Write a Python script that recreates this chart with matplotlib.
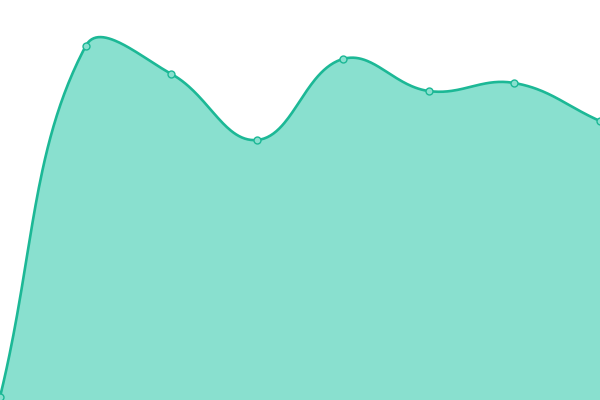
import numpy as np
import matplotlib
matplotlib.use('Agg')
import matplotlib.pyplot as plt

# data
labels = ['A', 'B', 'C', 'D', 'E', 'F', 'G', 'H']
values = [3, 354, 326, 260, 341, 309, 317, 279]

line_color = '#1cb896'
fill_color = '#89e0cf'

fig = plt.figure(figsize=(6, 4), dpi=100)
ax = fig.add_axes([0, 0, 1, 1])
ax.set_xlim(0, len(labels) - 1)
ax.set_ylim(0, 400)
ax.axis('off')

# chart.js style spline (tension 0.4) computed in display space
x = np.arange(len(labels))
pts = ax.transData.transform(np.column_stack([x, values]))
t = 0.4
n = len(pts)
cp_prev = np.zeros_like(pts)
cp_next = np.zeros_like(pts)
for i in range(n):
    cur = pts[i]
    prev = pts[i - 1] if i > 0 else cur
    nxt = pts[i + 1] if i < n - 1 else cur
    d01 = np.hypot(*(cur - prev))
    d12 = np.hypot(*(nxt - cur))
    tot = d01 + d12
    s01 = d01 / tot if tot else 0
    s12 = d12 / tot if tot else 0
    cp_prev[i] = cur - t * s01 * (nxt - prev)
    cp_next[i] = cur + t * s12 * (nxt - prev)

# cap control points to chart area
y0, y1 = ax.transData.transform([(0, 0), (0, 400)])[:, 1]
cp_prev[:, 1] = np.clip(cp_prev[:, 1], y0, y1)
cp_next[:, 1] = np.clip(cp_next[:, 1], y0, y1)

curve = []
s = np.linspace(0, 1, 60)[:, None]
for i in range(n - 1):
    p0, p1, p2, p3 = pts[i], cp_next[i], cp_prev[i + 1], pts[i + 1]
    seg = (1 - s) ** 3 * p0 + 3 * (1 - s) ** 2 * s * p1 + 3 * (1 - s) * s ** 2 * p2 + s ** 3 * p3
    curve.append(seg)
curve = np.vstack(curve)
curve = ax.transData.inverted().transform(curve)

ax.fill_between(curve[:, 0], curve[:, 1], 0, color=fill_color, lw=0)
ax.plot(curve[:, 0], curve[:, 1], color=line_color, lw=1.9, solid_capstyle='round', clip_on=False)
ax.plot(x, values, 'o', ms=5, mfc=fill_color, mec=line_color, mew=1.0, clip_on=False)

fig.savefig('out.png', dpi=100)
